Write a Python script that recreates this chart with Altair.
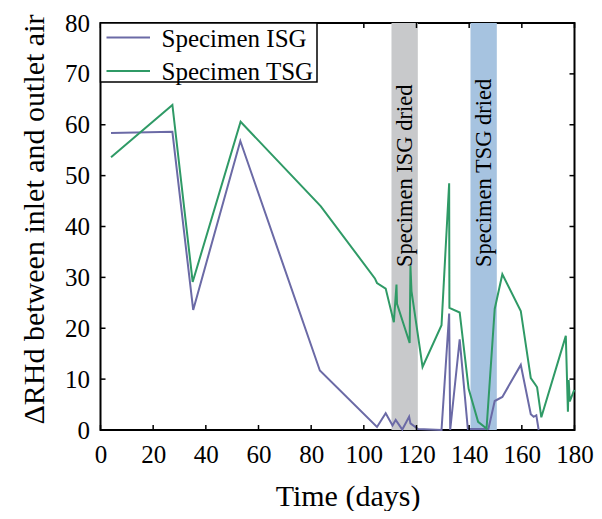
import altair as alt
import pandas as pd

# ---- data ----
isg_day = [4.0, 27.3, 35.2, 53.1, 83.3, 105.0, 108.3, 110.9, 112.1, 114.6, 117.2, 117.7,
           120.6, 129.5, 132.4, 132.8, 136.4, 139.5, 147.3, 149.7, 152.6, 159.6, 163.4,
           164.5, 165.5, 166.4]
isg_val = [58.4, 58.6, 23.6, 56.8, 11.7, 0.6, 3.3, 0.9, 2.0, 0.1, 2.6, 1.3,
           0.2, 0.0, 22.9, 0.0, 17.8, 0.2, 0.2, 5.7, 6.5, 12.8, 3.1,
           2.6, 2.9, 0.0]

tsg_day = [4.0, 27.3, 35.0, 53.2, 83.6, 104.2, 105.0, 108.3, 111.4, 112.4, 112.6, 117.4,
           117.7, 118.1, 122.3, 129.5, 132.4, 132.5, 136.4, 139.8, 143.4, 146.6, 149.7,
           152.6, 159.6, 163.4, 165.3, 165.8, 167.4, 176.7, 177.5, 177.8, 178.2, 179.9]
tsg_val = [53.6, 63.9, 29.1, 60.6, 44.0, 29.8, 28.9, 27.8, 21.2, 28.6, 24.8, 17.1,
           32.3, 27.3, 12.4, 20.6, 48.5, 24.0, 23.1, 8.1, 1.6, 0.3, 23.8,
           30.6, 23.4, 10.2, 8.8, 8.4, 2.5, 18.5, 3.6, 9.8, 5.6, 7.9]

series_names = ["Specimen ISG", "Specimen TSG"]
series_colors = ["#6b6aa6", "#2f9a66"]

band_start = [110.5, 140.5]
band_end = [120.5, 150.5]
band_label = ["Specimen ISG dried", "Specimen TSG dried"]
band_color = ["#c8c9cb", "#a6c3e0"]

x_ticks = [0, 20, 40, 60, 80, 100, 120, 140, 160, 180]
y_ticks = [0, 10, 20, 30, 40, 50, 60, 70, 80]

# ---- tables ----
rows = []
for i, (d, v) in enumerate(zip(isg_day, isg_val)):
    rows.append({"day": d, "val": v, "series": series_names[0], "i": i})
for i, (d, v) in enumerate(zip(tsg_day, tsg_val)):
    rows.append({"day": d, "val": v, "series": series_names[1], "i": i})
lines_df = pd.DataFrame(rows)
bands_df = pd.DataFrame({"start": band_start, "end": band_end,
                         "label": band_label, "color": band_color})
xt_df = pd.DataFrame({"t": x_ticks})
yt_df = pd.DataFrame({"t": y_ticks})

W, H = 474, 407
FONT = "Liberation Serif"

xscale = alt.Scale(domain=[0, 180], nice=False, zero=False)
yscale = alt.Scale(domain=[0, 80], nice=False)
xaxis = alt.Axis(values=x_ticks, ticks=False, domain=False, grid=False,
                 labelFontSize=25, labelFont=FONT, labelColor="black",
                 labelPadding=12, labelBaseline="top", labelOverlap=False,
                 labelFlush=False, labelBound=False,
                 title="Time (days)", titleFontSize=30, titleFont=FONT,
                 titleFontWeight="normal", titleColor="black",
                 titleX=247, titleY=66, titleBaseline="middle", titleAlign="center")
yaxis = alt.Axis(values=y_ticks, ticks=False, domain=False, grid=False,
                 labelFontSize=25, labelFont=FONT, labelColor="black",
                 labelPadding=11, labelOverlap=False, labelFlush=False,
                 labelBound=False,
                 title="ΔRHd between inlet and outlet air", titleFontSize=30,
                 titleFont=FONT, titleFontWeight="normal", titleColor="black",
                 titleAngle=270, titleX=-66, titleY=196,
                 titleBaseline="middle", titleAlign="center")


def X(field):
    return alt.X(field, type="quantitative", scale=xscale, axis=xaxis)


def Y(field):
    return alt.Y(field, type="quantitative", scale=yscale, axis=yaxis)


bands = alt.Chart(bands_df).mark_rect().encode(
    x=X("start"), x2="end",
    y=alt.value(0), y2=alt.value(H),
    color=alt.Color("color:N", scale=None),
)

band_text = alt.Chart(bands_df).transform_calculate(
    mid="(datum.start + datum.end) / 2"
).mark_text(angle=270, align="left", baseline="middle", fontSize=22.5,
            font=FONT, color="black").encode(
    x=X("mid"), y=alt.value(244), text="label:N"
)

lines = alt.Chart(lines_df).mark_line(strokeWidth=2).encode(
    x=X("day"), y=Y("val"),
    order="i:Q",
    color=alt.Color("series:N",
                    scale=alt.Scale(domain=series_names, range=series_colors),
                    legend=None),
)

tick_len = 5
xt_bottom = alt.Chart(xt_df).mark_rule(color="black", strokeWidth=1.5).encode(
    x=X("t"), y=alt.value(H), y2=alt.value(H - tick_len))
xt_top = alt.Chart(xt_df).mark_rule(color="black", strokeWidth=1.5).encode(
    x=X("t"), y=alt.value(0), y2=alt.value(tick_len))
yt_left = alt.Chart(yt_df).mark_rule(color="black", strokeWidth=1.5).encode(
    y=Y("t"), x=alt.value(0), x2=alt.value(tick_len))
yt_right = alt.Chart(yt_df).mark_rule(color="black", strokeWidth=1.5).encode(
    y=Y("t"), x=alt.value(W), x2=alt.value(W - tick_len))

# ---- legend drawn as marks (box, line samples, labels) ----
leg_df = pd.DataFrame({"series": ["legend"]})
leg_box = alt.Chart(leg_df).mark_rect(fill="white", stroke="black", strokeWidth=1.5).encode(
    x=alt.value(0), x2=alt.value(216.5), y=alt.value(0), y2=alt.value(59))
leg_layers = [leg_box]
leg_rows_y = [14.5, 48]
for name, col, ly in zip(series_names, series_colors, leg_rows_y):
    df = pd.DataFrame({"series": [name]})
    leg_layers.append(alt.Chart(df).mark_rule(color=col, strokeWidth=2).encode(
        x=alt.value(6), x2=alt.value(49.5), y=alt.value(ly)))
    leg_layers.append(alt.Chart(df).mark_text(
        align="left", baseline="middle", fontSize=25, font=FONT, color="black",
        dy=1).encode(x=alt.value(61), y=alt.value(ly), text="series:N"))

chart = alt.layer(bands, band_text, lines, xt_bottom, xt_top, yt_left, yt_right,
                  *leg_layers).properties(
    width=W, height=H,
    autosize=alt.AutoSizeParams(type="none"),
    padding={"left": 92.5, "top": 15, "right": 19.5, "bottom": 81},
    background="white",
).configure_view(stroke="black", strokeWidth=2)

chart.save("out.html", embed_options={"renderer": "svg", "actions": False})
